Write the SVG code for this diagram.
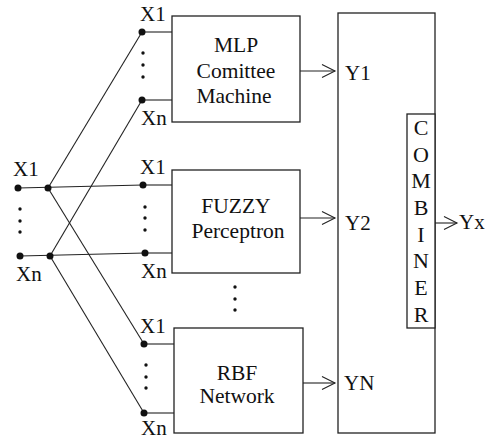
<svg xmlns="http://www.w3.org/2000/svg" width="490" height="439" viewBox="0 0 490 439">
<defs>
<style>
.box{fill:#fff;stroke:#222;stroke-width:1.3}
.ln{stroke:#222;stroke-width:1.1;fill:none}
.dot{fill:#111}
</style>
<marker id="arr" markerUnits="userSpaceOnUse" markerWidth="16" markerHeight="16" viewBox="-14 -8 16 16" refX="0" refY="0" orient="auto">
<path d="M-13,-6.5 L0,0 L-13,6.5" fill="none" stroke="#222" stroke-width="1.1"/>
</marker>
</defs>
<rect width="490" height="439" fill="#fff"/>

<g id="connectors">
<line class="ln" x1="18" y1="188" x2="143" y2="185"/>
<line class="ln" x1="20" y1="256" x2="145" y2="253"/>
<line class="ln" x1="48" y1="188" x2="142" y2="32"/>
<line class="ln" x1="48" y1="188" x2="144" y2="344"/>
<line class="ln" x1="50" y1="256" x2="142" y2="100"/>
<line class="ln" x1="50" y1="256" x2="144" y2="413"/>
<line class="ln" x1="142" y1="32" x2="172" y2="32"/>
<line class="ln" x1="142" y1="100" x2="172" y2="100"/>
<line class="ln" x1="143" y1="185" x2="172" y2="185"/>
<line class="ln" x1="145" y1="253" x2="172" y2="253"/>
<line class="ln" x1="144" y1="344" x2="174" y2="344"/>
<line class="ln" x1="144" y1="413" x2="174" y2="413"/>
<line class="ln" x1="300" y1="71" x2="335" y2="71" marker-end="url(#arr)"/>
<line class="ln" x1="300" y1="218" x2="335" y2="218" marker-end="url(#arr)"/>
<line class="ln" x1="303" y1="383" x2="335" y2="383" marker-end="url(#arr)"/>
<line class="ln" x1="435" y1="223" x2="457" y2="223" marker-end="url(#arr)"/>
</g>

<g id="inputs">
<circle class="dot" cx="18" cy="188" r="3.5"/>
<circle class="dot" cx="48" cy="188" r="3.5"/>
<circle class="dot" cx="20" cy="256" r="3.5"/>
<circle class="dot" cx="50" cy="256" r="3.5"/>
<circle class="dot" cx="20" cy="209" r="1.7"/>
<circle class="dot" cx="20" cy="221" r="1.7"/>
<circle class="dot" cx="20" cy="232" r="1.7"/>
<text x="13" y="176" font-family="Liberation Serif" font-size="21" fill="#111">X1</text>
<text x="16" y="281" font-family="Liberation Serif" font-size="21" fill="#111">Xn</text>
</g>

<g id="mlp">
<rect class="box" x="172" y="16" width="128" height="106"/>
<text x="236" y="52" font-family="Liberation Serif" font-size="21.5" fill="#111" text-anchor="middle">MLP</text>
<text x="236" y="78" font-family="Liberation Serif" font-size="21.5" fill="#111" text-anchor="middle">Comittee</text>
<text x="234" y="103" font-family="Liberation Serif" font-size="21.5" fill="#111" text-anchor="middle">Machine</text>
<circle class="dot" cx="142" cy="32" r="3.5"/>
<circle class="dot" cx="142" cy="100" r="3.5"/>
<circle class="dot" cx="143" cy="53" r="1.7"/>
<circle class="dot" cx="143" cy="65" r="1.7"/>
<circle class="dot" cx="143" cy="77" r="1.7"/>
<text x="140" y="21" font-family="Liberation Serif" font-size="21" fill="#111">X1</text>
<text x="141" y="125" font-family="Liberation Serif" font-size="21" fill="#111">Xn</text>
</g>

<g id="fuzzy">
<rect class="box" x="172" y="170" width="128" height="103"/>
<text x="236" y="213" font-family="Liberation Serif" font-size="21.5" fill="#111" text-anchor="middle">FUZZY</text>
<text x="238" y="238" font-family="Liberation Serif" font-size="21.5" fill="#111" text-anchor="middle">Perceptron</text>
<circle class="dot" cx="143" cy="185" r="3.5"/>
<circle class="dot" cx="145" cy="253" r="3.5"/>
<circle class="dot" cx="145" cy="207" r="1.7"/>
<circle class="dot" cx="145" cy="218" r="1.7"/>
<circle class="dot" cx="145" cy="230" r="1.7"/>
<text x="140" y="174" font-family="Liberation Serif" font-size="21" fill="#111">X1</text>
<text x="141" y="278" font-family="Liberation Serif" font-size="21" fill="#111">Xn</text>
</g>

<g id="more">
<circle class="dot" cx="235" cy="287" r="1.7"/>
<circle class="dot" cx="235" cy="299" r="1.7"/>
<circle class="dot" cx="235" cy="310" r="1.7"/>
</g>

<g id="rbf">
<rect class="box" x="174" y="328" width="129" height="105"/>
<text x="237" y="380" font-family="Liberation Serif" font-size="21.5" fill="#111" text-anchor="middle">RBF</text>
<text x="237" y="403" font-family="Liberation Serif" font-size="21.5" fill="#111" text-anchor="middle">Network</text>
<circle class="dot" cx="144" cy="344" r="3.5"/>
<circle class="dot" cx="144" cy="413" r="3.5"/>
<circle class="dot" cx="146" cy="365" r="1.7"/>
<circle class="dot" cx="146" cy="377" r="1.7"/>
<circle class="dot" cx="146" cy="388" r="1.7"/>
<text x="140" y="333" font-family="Liberation Serif" font-size="21" fill="#111">X1</text>
<text x="141" y="435" font-family="Liberation Serif" font-size="21" fill="#111">Xn</text>
</g>

<g id="combiner-box">
<rect class="box" x="338" y="13" width="97" height="420"/>
<text x="345" y="80" font-family="Liberation Serif" font-size="21" fill="#111">Y1</text>
<text x="345" y="230" font-family="Liberation Serif" font-size="21" fill="#111">Y2</text>
<text x="344" y="390" font-family="Liberation Serif" font-size="21" fill="#111">YN</text>
</g>

<g id="combiner">
<rect class="box" x="407" y="114" width="28" height="214"/>
<text x="421" y="135" font-family="Liberation Serif" font-size="22" fill="#111" text-anchor="middle">C</text>
<text x="421" y="162" font-family="Liberation Serif" font-size="22" fill="#111" text-anchor="middle">O</text>
<text x="421" y="188" font-family="Liberation Serif" font-size="22" fill="#111" text-anchor="middle">M</text>
<text x="421" y="215" font-family="Liberation Serif" font-size="22" fill="#111" text-anchor="middle">B</text>
<text x="421" y="242" font-family="Liberation Serif" font-size="22" fill="#111" text-anchor="middle">I</text>
<text x="421" y="268" font-family="Liberation Serif" font-size="22" fill="#111" text-anchor="middle">N</text>
<text x="421" y="295" font-family="Liberation Serif" font-size="22" fill="#111" text-anchor="middle">E</text>
<text x="421" y="322" font-family="Liberation Serif" font-size="22" fill="#111" text-anchor="middle">R</text>
</g>

<g id="output">
<text x="459" y="229" font-family="Liberation Serif" font-size="21" fill="#111">Yx</text>
</g>
</svg>
